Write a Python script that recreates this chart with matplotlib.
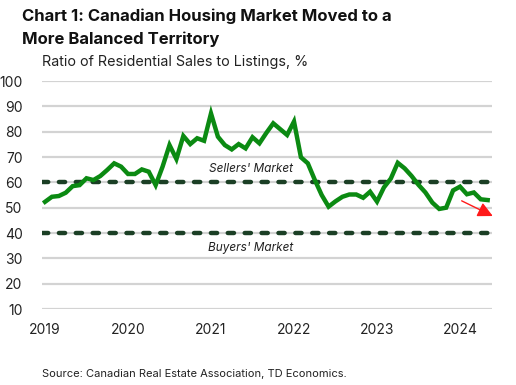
import numpy as np
import matplotlib
matplotlib.use('Agg')
import matplotlib.pyplot as plt

plt.rcParams['font.family'] = ['Inter', 'DejaVu Sans']

# monthly sales-to-new-listings ratio, Jan 2019 - May 2024
snlr_2019 = [52.3, 54.3, 54.6, 55.9, 58.5, 58.9, 61.6, 60.9, 62.5, 64.9, 67.5, 66.2]
snlr_2020 = [63.3, 63.3, 65.1, 64.2, 58.9, 66.2, 74.7, 69.2, 78.3, 75.1, 77.4, 76.4]
snlr_2021 = [87.2, 78.0, 74.7, 73.0, 75.1, 73.4, 77.8, 75.4, 79.5, 83.3, 81.0, 78.7]
snlr_2022 = [84.0, 69.9, 67.5, 61.0, 55.0, 50.4, 52.5, 54.3, 55.2, 55.2, 53.9, 56.3]
snlr_2023 = [52.4, 58.0, 61.5, 67.7, 65.5, 62.5, 59.0, 56.0, 52.0, 49.5, 50.0, 56.8]
snlr_2024 = [58.3, 55.3, 56.0, 53.3, 53.0]

ratio = snlr_2019 + snlr_2020 + snlr_2021 + snlr_2022 + snlr_2023 + snlr_2024
months = 2019 + np.arange(len(ratio)) / 12

year_ticks = [2019, 2020, 2021, 2022, 2023, 2024]
y_ticks = [10, 20, 30, 40, 50, 60, 70, 80, 90, 100]
sellers_line = 60
buyers_line = 40

fig = plt.figure(figsize=(5.16, 3.85), dpi=100)
ax = fig.add_axes([0.0814, 0.1974, 0.8721, 0.5922])

for y in y_ticks:
    ax.axhline(y, color='#d3d3d3', lw=1.6, zorder=0)

for y in (sellers_line, buyers_line):
    ax.axhline(y, color='#1b3f25', lw=3.2, dashes=(1.4, 2.4),
               dash_capstyle='round', zorder=1)

ax.plot(months, ratio, color='#0b8a12', lw=3.2, zorder=3,
        solid_joinstyle='miter')

ax.text(2021.48, 65.2, "Sellers' Market", ha='center', va='center',
        fontsize=8.5, style='italic', color='#222222')
ax.text(2021.48, 34.1, "Buyers' Market", ha='center', va='center',
        fontsize=8.5, style='italic', color='#222222')

ax.annotate('', xy=(2024.395, 46.7), xytext=(2024.02, 52.7),
            arrowprops=dict(arrowstyle='-|>,head_length=0.9,head_width=0.45',
                            color='#ff1a1a', lw=1.0, shrinkA=0, shrinkB=0),
            annotation_clip=False)

ax.set_xlim(2019 - 3 / 83, 2019 + 447 / 83)
ax.set_ylim(10, 100)
ax.set_yticks(y_ticks)
ax.set_xticks(year_ticks)
ax.set_xticklabels([str(y) for y in year_ticks])
ax.tick_params(axis='both', length=0, labelsize=10, colors='#222222')
ax.tick_params(axis='y', pad=14)
ax.tick_params(axis='x', pad=10)
for s in ax.spines.values():
    s.set_visible(False)

fig.text(0.043, 0.978, 'Chart 1: Canadian Housing Market Moved to a\nMore Balanced Territory',
         ha='left', va='top', fontsize=12, fontweight='bold', color='#111111',
         linespacing=1.6)
fig.text(0.081, 0.84, 'Ratio of Residential Sales to Listings, %', ha='left', va='center',
         fontsize=10.3, color='#222222')
fig.text(0.081, 0.028, 'Source: Canadian Real Estate Association, TD Economics.',
         ha='left', va='center', fontsize=8, color='#222222')

fig.savefig('out.png', dpi=100)
